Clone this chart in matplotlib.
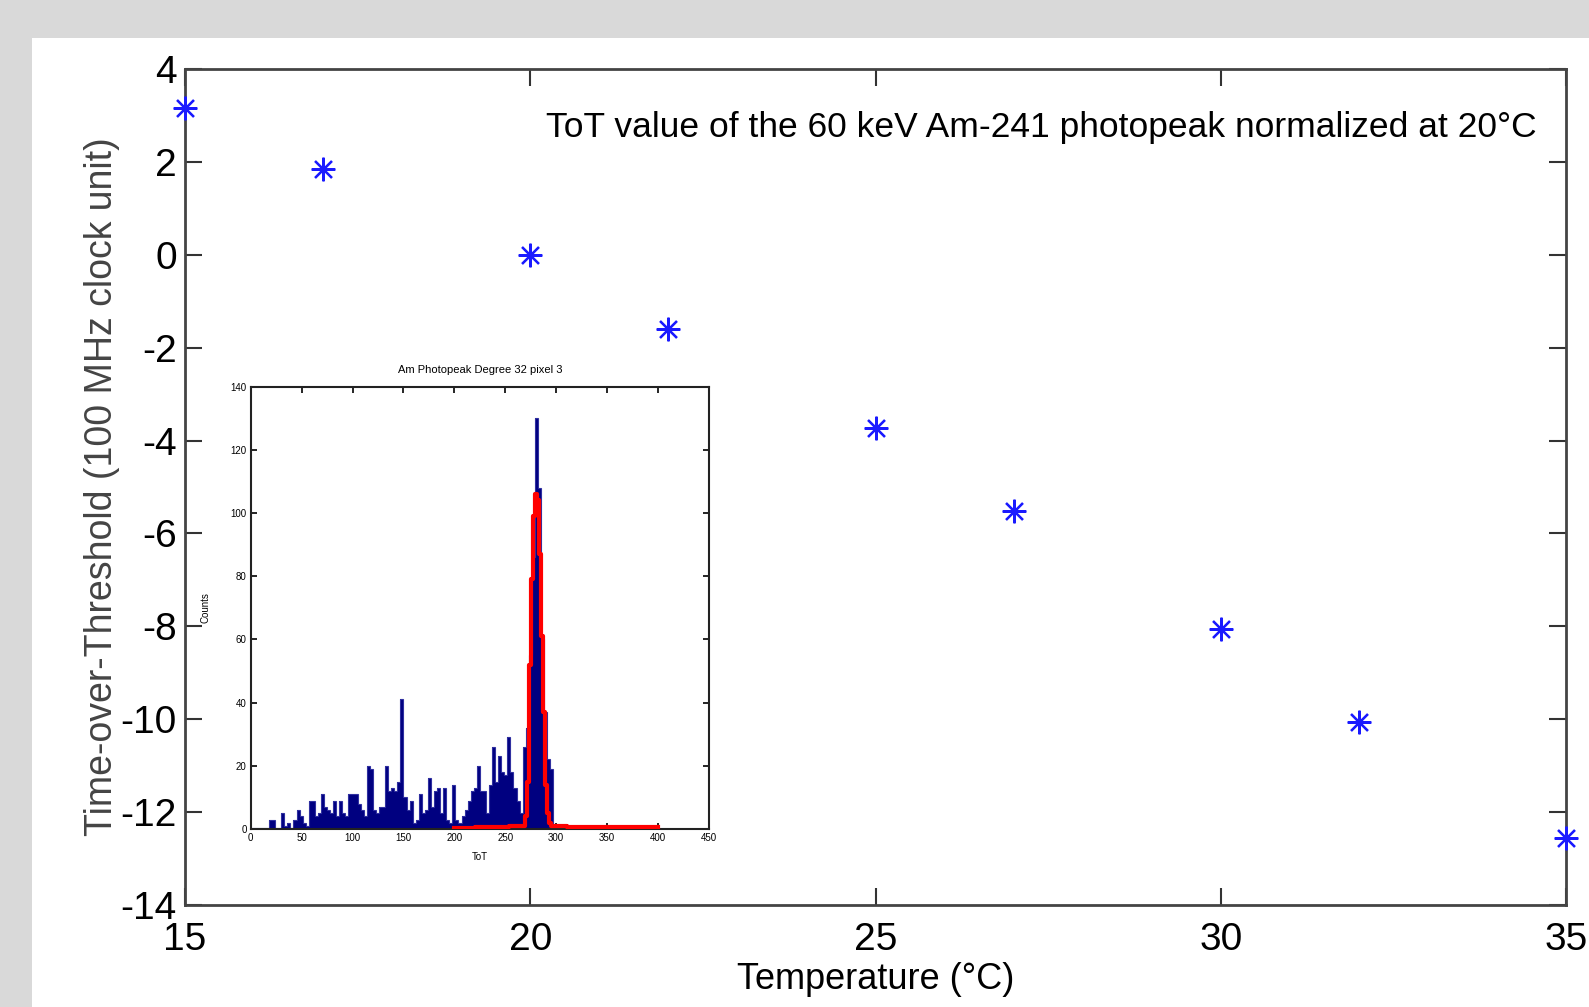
import matplotlib
matplotlib.use("Agg")
import matplotlib.pyplot as plt
from matplotlib.patches import Rectangle
import numpy as np

plt.rcParams["axes.unicode_minus"] = False

# main series: ToT shift vs temperature
temps = [15, 17, 20, 22, 25, 27, 30, 32, 35]
tot_shift = [3.17, 1.84, 0.0, -1.6, -3.72, -5.51, -8.06, -10.05, -12.56]

# inset histogram (bin width 3, ToT 0..300)
bin_edges = list(range(0, 301, 3))
counts = [0, 0, 0, 0, 0, 0, 3, 3, 0, 0,
          5, 1, 2, 0, 3, 6, 4, 2, 1, 9,
          9, 4, 5, 11, 7, 6, 5, 9, 4, 9,
          5, 4, 11, 11, 11, 8, 6, 4, 20, 19,
          6, 5, 7, 7, 20, 12, 13, 12, 15, 41,
          10, 6, 9, 2, 3, 11, 5, 6, 16, 7,
          12, 13, 5, 13, 3, 2, 14, 3, 2, 4,
          6, 9, 12, 13, 20, 12, 12, 5, 14, 26,
          15, 23, 18, 17, 29, 18, 13, 9, 5, 26,
          32, 55, 86, 130, 108, 60, 37, 22, 19, 1]

# gaussian fit drawn as steps
fit_tot = [200, 240, 268, 270, 272, 274, 276, 278, 280, 282, 284, 286, 288, 290, 292, 294, 296, 325, 400]
fit_cnt = [0.2, 0.5, 1, 4, 15, 52, 79, 99, 106, 104, 87, 61, 37, 14, 5, 2, 1, 0.5, 0.5]

ARIAL = ["Liberation Sans", "DejaVu Sans"]
plt.rcParams["font.family"] = ARIAL

fig = plt.figure(figsize=(15.89, 10.07), dpi=100)
fig.patch.set_facecolor("#d9d9d9")
bg = Rectangle((32 / 1589, 0), 1, 1 - 38 / 1007, transform=fig.transFigure,
               facecolor="white", edgecolor="none", zorder=-10)
fig.add_artist(bg)

ax = fig.add_axes([185 / 1589, 1 - 905 / 1007, 1381 / 1589, 836 / 1007])
ax.patch.set_alpha(0)
ax.plot(temps, tot_shift, linestyle="none", marker=(8, 2, 0), markersize=17,
        markeredgewidth=1.6, color="#1a1aff", clip_on=False, zorder=5)
ax.set_xlim(15, 35)
ax.set_ylim(-14, 4)
ax.set_xticks([15, 20, 25, 30, 35])
ax.set_yticks(list(range(-14, 5, 2)))
ax.tick_params(direction="in", length=12, width=1.5, top=True, right=True,
               labelsize=28, pad=6, colors="#333333", labelcolor="black")
ax.tick_params(axis="x", pad=12)
for s in ax.spines.values():
    s.set_linewidth(2)
    s.set_color("#444444")
ax.set_xlabel("Temperature (°C)", fontsize=26)
ax.xaxis.set_label_coords(0.5, -0.068)
ax.set_ylabel("Time-over-Threshold (100 MHz clock unit)", fontsize=27, color="#444444")
ax.yaxis.set_label_coords(-0.047, 0.5)
ax.text(0.979, 0.93, "ToT value of the 60 keV Am-241 photopeak normalized at 20°C",
        transform=ax.transAxes, ha="right", va="center", fontsize=25.5)

# inset
ins = fig.add_axes([250.7 / 1589, 1 - 829 / 1007, 458.3 / 1589, 442.3 / 1007])
ins.stairs(counts, bin_edges, fill=True, color="#000080", zorder=2)
ins.stairs(counts, bin_edges, color="#3030a0", linewidth=0.8, zorder=2)
ins.plot([0, 200], [0, 0], color="#0000a0", linewidth=1.5, zorder=2)
ins.plot(fit_tot, fit_cnt, drawstyle="steps-mid", color="red", linewidth=3, zorder=3)
ins.set_xlim(0, 450)
ins.set_ylim(0, 140)
ins.set_xticks(list(range(0, 451, 50)))
ins.set_yticks(list(range(0, 141, 20)))
ins.tick_params(direction="in", length=4, width=1.2, top=True, right=True,
                labelsize=7, pad=3)
for s in ins.spines.values():
    s.set_linewidth(1.5)
    s.set_color("#222222")
ins.set_title("Am Photopeak Degree 32 pixel 3", fontsize=8, pad=10)
ins.set_xlabel("ToT", fontsize=7, labelpad=6)
ins.set_ylabel("Counts", fontsize=7, labelpad=14)

fig.savefig("out.png", dpi=100, facecolor=fig.get_facecolor())
